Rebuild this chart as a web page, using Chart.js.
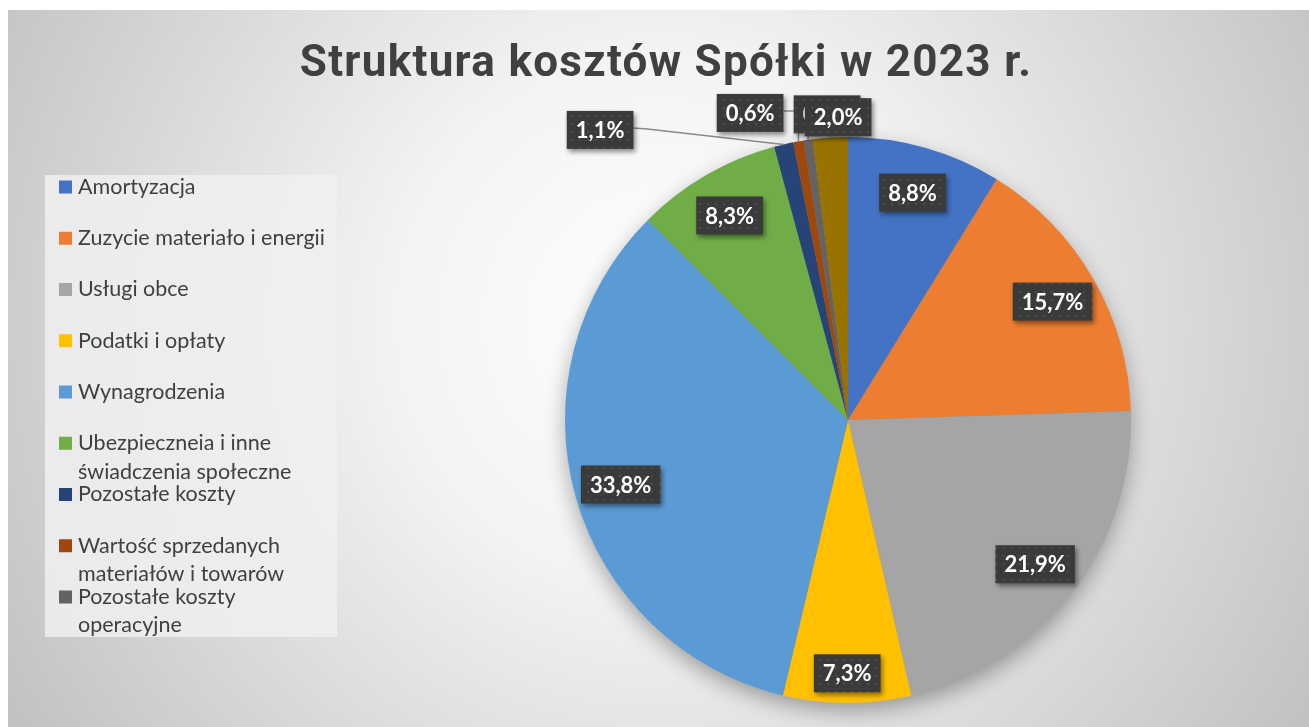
<!DOCTYPE html>
<html lang="pl">
<head>
<meta charset="utf-8">
<title>Struktura kosztów</title>
<script src="https://cdn.jsdelivr.net/npm/chart.js@4.4.1/dist/chart.umd.min.js"></script>
<style>
  html, body { margin: 0; padding: 0; background: #fff; }
  #wrap { position: relative; width: 1309px; height: 727px; }
</style>
</head>
<body>
<div id="wrap"><canvas id="costChart" width="1309" height="727"></canvas></div>
<script>
// dane do wykresu
const chartTitle = 'Struktura kosztów Spółki w 2023 r.';
const categories = [
  'Amortyzacja',
  'Zuzycie materiało i energii',
  'Usługi obce',
  'Podatki i opłaty',
  'Wynagrodzenia',
  ['Ubezpieczneia i inne', 'świadczenia społeczne'],
  'Pozostałe koszty',
  ['Wartość sprzedanych', 'materiałów i towarów'],
  ['Pozostałe koszty', 'operacyjne'],
  'Inne'
];
const shares = [8.8, 15.7, 21.9, 7.3, 33.8, 8.3, 1.1, 0.6, 0.5, 2.0];
const colors = ['#4472C4', '#ED7D31', '#A5A5A5', '#FFC000', '#5B9BD5',
                '#70AD47', '#264478', '#9E480E', '#636363', '#997300'];

const FONT = 'Lato, "Open Sans", sans-serif';

// etykiety poza kołem (pozycja w promieniach od środka)
const outside = {
  6: { dx: -0.876, dy: -1.025, leader: 'elbow' },
  7: { dx: -0.346, dy: -1.085, leader: 'side' },
  8: { dx: -0.074, dy: -1.08, leader: 'down' },
  9: { dx: -0.035, dy: -1.07, leader: 'down' }
};

function fmt(v) {
  return v.toFixed(1).replace('.', ',') + '%';
}

// wzór tła etykiet (ciemne z kropkami)
const patCanvas = document.createElement('canvas');
patCanvas.width = 8; patCanvas.height = 8;
const pctx = patCanvas.getContext('2d');
pctx.fillStyle = '#3a3a3a';
pctx.fillRect(0, 0, 8, 8);
pctx.fillStyle = '#4c4c4c';
pctx.fillRect(3, 3, 2, 2);

const bgPlugin = {
  id: 'bg',
  beforeDraw(chart) {
    const c = chart.ctx;
    c.save();
    c.fillStyle = '#fff';
    c.fillRect(0, 0, chart.width, chart.height);
    const g = c.createRadialGradient(660, 320, 0, 660, 320, 760);
    g.addColorStop(0, '#ffffff');
    g.addColorStop(0.35, '#f3f3f3');
    g.addColorStop(1, '#c2c2c2');
    c.fillStyle = g;
    c.fillRect(8, 10, chart.width - 8, chart.height - 10);

    // tytuł
    c.fillStyle = '#404040';
    c.font = 'bold 44px Roboto, ' + FONT;
    c.letterSpacing = '1.3px';
    c.textAlign = 'center';
    c.textBaseline = 'alphabetic';
    c.fillText(chartTitle, 666, 76);
    c.letterSpacing = '0px';

    // legenda
    const box = { x: 45, y: 175, w: 292, h: 462 };
    c.fillStyle = 'rgba(240,240,240,0.85)';
    c.fillRect(box.x, box.y, box.w, box.h);
    c.font = '21.5px ' + FONT;
    c.textAlign = 'left';
    c.textBaseline = 'middle';
    categories.forEach((lab, i) => {
      const y = 187 + i * 51.25;
      if (y > box.y + box.h) return;
      c.fillStyle = colors[i];
      c.fillRect(59, y - 6.5, 13, 13);
      c.fillStyle = '#404040';
      const lines = Array.isArray(lab) ? lab : [lab];
      lines.forEach((ln, k) => c.fillText(ln, 78, y + k * 28.5));
    });
    c.restore();
  }
};

// cień pod kołem
const shadowPlugin = {
  id: 'pieShadow',
  beforeDatasetsDraw(chart) {
    const arc = chart.getDatasetMeta(0).data[0];
    if (!arc) return;
    const p = arc.getProps(['x', 'y', 'outerRadius'], true);
    const c = chart.ctx;
    c.save();
    c.shadowColor = 'rgba(0,0,0,0.35)';
    c.shadowBlur = 22;
    c.shadowOffsetY = 8;
    c.fillStyle = '#888';
    c.beginPath();
    c.arc(p.x, p.y, p.outerRadius - 1, 0, Math.PI * 2);
    c.fill();
    c.restore();
  }
};

const labelPlugin = {
  id: 'sliceLabels',
  afterDatasetsDraw(chart) {
    const c = chart.ctx;
    const meta = chart.getDatasetMeta(0);
    const pattern = c.createPattern(patCanvas, 'repeat');
    c.save();
    c.font = 'bold 22px ' + FONT;
    c.textAlign = 'center';
    c.textBaseline = 'middle';

    const boxes = meta.data.map((arc, i) => {
      const p = arc.getProps(['x', 'y', 'startAngle', 'endAngle', 'outerRadius'], true);
      const mid = (p.startAngle + p.endAngle) / 2;
      const R = p.outerRadius;
      const text = fmt(shares[i]);
      const w = c.measureText(text).width + 18;
      const h = 38;
      let cx, cy;
      const o = outside[i];
      if (o) {
        cx = p.x + o.dx * R;
        cy = p.y + o.dy * R;
      } else {
        const f = i === 3 ? 0.895 : 0.835;
        cx = p.x + Math.cos(mid) * R * f;
        cy = p.y + Math.sin(mid) * R * f;
      }
      const ex = p.x + Math.cos(mid) * R;
      const ey = p.y + Math.sin(mid) * R;
      return { i, text, w, h, cx, cy, ex, ey, o };
    });

    // linie odniesienia
    c.strokeStyle = '#8a8a8a';
    c.lineWidth = 1.5;
    boxes.forEach(b => {
      if (!b.o) return;
      c.beginPath();
      if (b.o.leader === 'elbow') {
        c.moveTo(b.cx + b.w / 2, b.cy - 2);
        c.lineTo(b.cx + b.w / 2 + 14, b.cy - 1);
        c.lineTo(b.ex, b.ey);
      } else if (b.o.leader === 'side') {
        c.moveTo(b.cx + b.w / 2, b.cy - 2);
        c.lineTo(b.ex, b.cy - 2);
        c.lineTo(b.ex, b.ey);
      } else {
        c.moveTo(b.ex, b.cy + b.h / 2);
        c.lineTo(b.ex, b.ey);
      }
      c.stroke();
    });

    // ramki z wartościami
    boxes.forEach(b => {
      c.save();
      c.shadowColor = 'rgba(0,0,0,0.45)';
      c.shadowBlur = 5;
      c.shadowOffsetX = 2;
      c.shadowOffsetY = 3;
      c.fillStyle = pattern;
      c.fillRect(b.cx - b.w / 2, b.cy - b.h / 2, b.w, b.h);
      c.restore();
      c.fillStyle = '#ffffff';
      c.fillText(b.text, b.cx, b.cy + 1);
    });
    c.restore();
  }
};

const ctx = document.getElementById('costChart').getContext('2d');
const chart = new Chart(ctx, {
  type: 'pie',
  data: {
    labels: categories,
    datasets: [{
      data: shares,
      backgroundColor: colors,
      borderWidth: 0
    }]
  },
  options: {
    responsive: false,
    animation: false,
    layout: {
      padding: { left: 565, right: 178, top: 137, bottom: 24 }
    },
    plugins: {
      legend: { display: false },
      title: { display: false },
      tooltip: { enabled: false }
    }
  },
  plugins: [bgPlugin, shadowPlugin, labelPlugin]
});
</script>
</body>
</html>
